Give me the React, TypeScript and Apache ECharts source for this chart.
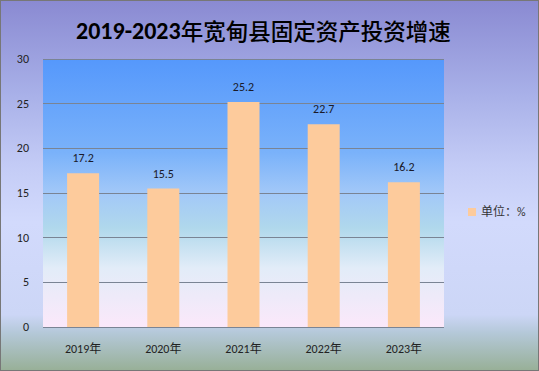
import React, { useEffect, useRef } from "react";
import * as echarts from "echarts";

const categories = ["2019年", "2020年", "2021年", "2022年", "2023年"];
const values = [17.2, 15.5, 25.2, 22.7, 16.2];
const seriesName = "单位：%";
const titleYears = "2019-2023";
const titleRest = "年宽甸县固定资产投资增速";

export default function App() {
  const ref = useRef<HTMLDivElement>(null);
  useEffect(() => {
    if (!ref.current) return;
    const chart = echarts.init(ref.current, null, { renderer: "svg" });
    const font = "Calibri, Carlito, 'Noto Sans', 'Noto Sans CJK SC', sans-serif";
    chart.setOption({
      animation: false,
      backgroundColor: new echarts.graphic.LinearGradient(0, 0, 0, 1, [
        { offset: 0, color: "#8a8ad2" },
        { offset: 0.25, color: "#a8b0e8" },
        { offset: 0.45, color: "#c4ccf6" },
        { offset: 0.6, color: "#d2dafc" },
        { offset: 0.85, color: "#ccd6f6" },
        { offset: 0.9, color: "#b4c8d8" },
        { offset: 1, color: "#98b098" },
      ]),
      title: {
        text: "{a|" + titleYears + "}{b|" + titleRest + "}",
        left: 70,
        top: 12,
        textStyle: {
          fontFamily: font,
          fontSize: 24,
          color: "#000",
          rich: {
            a: {
              fontFamily: font,
              fontSize: 24,
              fontWeight: "bold",
              color: "#000",
            },
            b: {
              fontFamily: "'Noto Sans CJK SC', sans-serif",
              fontSize: 22.5,
              fontWeight: 500,
              color: "#000",
            },
          },
        },
      },
      legend: {
        orient: "vertical",
        left: 462,
        top: 200,
        itemWidth: 8,
        itemHeight: 8,
        itemGap: 6,
        icon: "rect",
        textStyle: { fontFamily: font, fontSize: 12, color: "#333" },
        data: [seriesName],
      },
      grid: {
        left: 42,
        top: 58,
        width: 401,
        height: 268,
        show: true,
        borderWidth: 0,
        backgroundColor: new echarts.graphic.LinearGradient(0, 0, 0, 1, [
          { offset: 0, color: "#5598fc" },
          { offset: 0.35, color: "#7ab2fa" },
          { offset: 0.5, color: "#a2c8f8" },
          { offset: 0.63, color: "#b0d8ec" },
          { offset: 0.78, color: "#e2ecf8" },
          { offset: 1, color: "#fbe8fa" },
        ]),
      },
      xAxis: {
        type: "category",
        data: categories,
        axisLine: { show: false },
        axisTick: { show: false },
        axisLabel: {
          fontFamily: font,
          fontSize: 12,
          color: "#222",
          margin: 16,
        },
      },
      yAxis: {
        type: "value",
        min: 0,
        max: 30,
        interval: 5,
        axisLine: { show: false },
        axisTick: { show: false },
        axisLabel: {
          fontFamily: font,
          fontSize: 12,
          color: "#222",
          margin: 14,
        },
        splitLine: { lineStyle: { color: "#7a8494", width: 1 } },
      },
      series: [
        {
          name: seriesName,
          type: "bar",
          data: values,
          barWidth: 32,
          itemStyle: { color: "#fdcb9c" },
          label: {
            show: true,
            position: "top",
            distance: 9,
            fontFamily: font,
            fontSize: 12,
            color: "#1a1a2a",
          },
        },
      ],
    });
    return () => chart.dispose();
  }, []);
  return (
    <div
      ref={ref}
      style={{
        position: "fixed",
        left: 0,
        top: 0,
        width: 539,
        height: 371,
        boxSizing: "border-box",
        border: "1px solid #777",
      }}
    />
  );
}
